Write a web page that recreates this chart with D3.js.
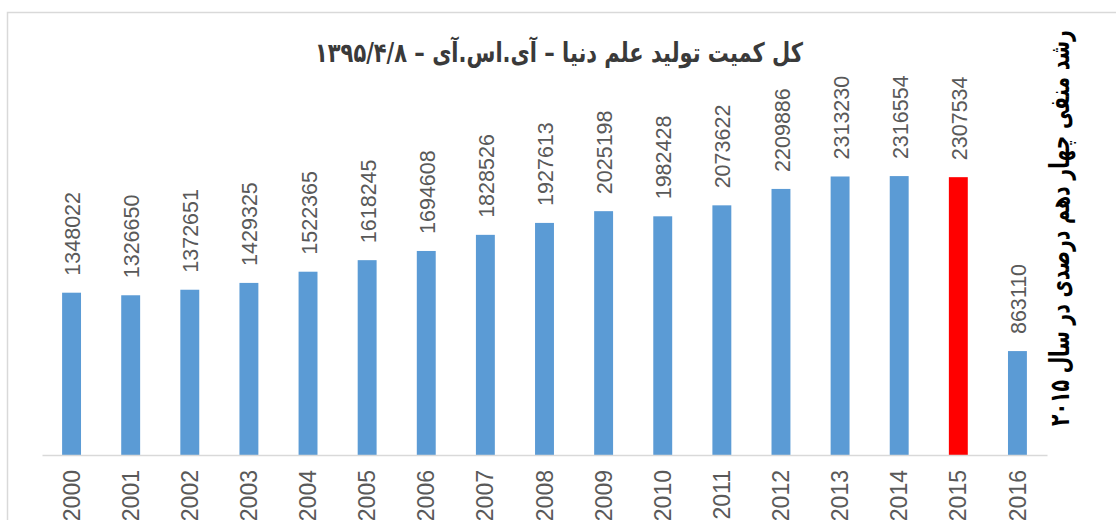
<!DOCTYPE html>
<html>
<head>
<meta charset="utf-8">
<script src="https://cdn.jsdelivr.net/npm/d3@7"></script>
<style>
  body { margin: 0; background: #fff; }
  svg { display: block; }
</style>
</head>
<body>
<div class="chart"></div>
<script>
var svgWidth = 1116;
var svgHeight = 520;

// data
var years = ["2000", "2001", "2002", "2003", "2004", "2005", "2006", "2007", "2008",
  "2009", "2010", "2011", "2012", "2013", "2014", "2015", "2016"];
var counts = [1348022, 1326650, 1372651, 1429325, 1522365, 1618245, 1694608, 1828526,
  1927613, 2025198, 1982428, 2073622, 2209886, 2313230, 2316554, 2307534, 863110];
var highlightYear = "2015";

var titleText = "کل کمیت تولید علم دنیا – آی.اس.آی – ۱۳۹۵/۴/۸";
var sideText = "رشد منفی چهار دهم درصدی در سال ۲۰۱۵";

var data = years.map(function(y, i) { return { year: y, value: counts[i] }; });

var svg = d3.select(".chart")
  .append("svg")
  .attr("width", svgWidth)
  .attr("height", svgHeight);

// chart area border (runs off the right edge)
svg.append("path")
  .attr("d", "M7.5,520 L7.5,12.5 L1116,12.5")
  .attr("fill", "none")
  .attr("stroke", "#d9d9d9")
  .attr("stroke-width", 1.5);

var xScale = d3.scaleBand()
  .domain(years)
  .range([42, 1047])
  .paddingInner(0.68)
  .paddingOuter(0.34);

var yScale = d3.scaleLinear()
  .domain([0, 2500000])
  .range([455, 154]);

// bars
svg.selectAll("rect.bar")
  .data(data)
  .enter()
  .append("rect")
  .attr("class", "bar")
  .attr("x", d => xScale(d.year))
  .attr("y", d => yScale(d.value))
  .attr("width", xScale.bandwidth())
  .attr("height", d => yScale(0) - yScale(d.value))
  .attr("fill", d => d.year === highlightYear ? "#ff0000" : "#5b9bd5");

// x axis
var bottomAxis = d3.axisBottom(xScale).tickSize(0).tickPadding(0);
var xAxis = svg.append("g")
  .attr("transform", `translate(0, ${yScale(0)})`)
  .call(bottomAxis);

xAxis.select(".domain")
  .attr("stroke", "#d9d9d9")
  .attr("stroke-width", 1.5);

xAxis.selectAll("text")
  .attr("transform", "translate(0, 15) rotate(-90)")
  .attr("text-anchor", "end")
  .attr("x", 0)
  .attr("y", 0)
  .attr("dy", "0.35em")
  .attr("font-family", "Liberation Sans, Arial, sans-serif")
  .attr("font-size", 23)
  .attr("fill", "#595959");

// value labels
svg.selectAll("text.value")
  .data(data)
  .enter()
  .append("text")
  .attr("class", "value")
  .attr("transform", d => `translate(${xScale(d.year) + xScale.bandwidth() / 2 + 1}, ${yScale(d.value) - 17}) rotate(-90)`)
  .attr("dy", "0.35em")
  .attr("text-anchor", "start")
  .attr("font-family", "Liberation Sans, Arial, sans-serif")
  .attr("font-size", 21.5)
  .attr("fill", "#595959")
  .text(d => d.value);

// title
svg.append("text")
  .attr("x", 559)
  .attr("y", 62)
  .attr("text-anchor", "middle")
  .attr("direction", "rtl")
  .attr("font-family", "DejaVu Sans, sans-serif")
  .attr("font-weight", "bold")
  .attr("font-size", 27)
  .attr("textLength", 488)
  .attr("lengthAdjust", "spacingAndGlyphs")
  .attr("fill", "#3a3a3a")
  .text(titleText);

// side note
svg.append("text")
  .attr("transform", "translate(1060, 228) rotate(-90)")
  .attr("text-anchor", "middle")
  .attr("direction", "rtl")
  .attr("dy", "0.35em")
  .attr("font-family", "DejaVu Sans, sans-serif")
  .attr("font-weight", "bold")
  .attr("font-size", 27)
  .attr("textLength", 396)
  .attr("lengthAdjust", "spacingAndGlyphs")
  .attr("fill", "#000")
  .text(sideText);
</script>
</body>
</html>
